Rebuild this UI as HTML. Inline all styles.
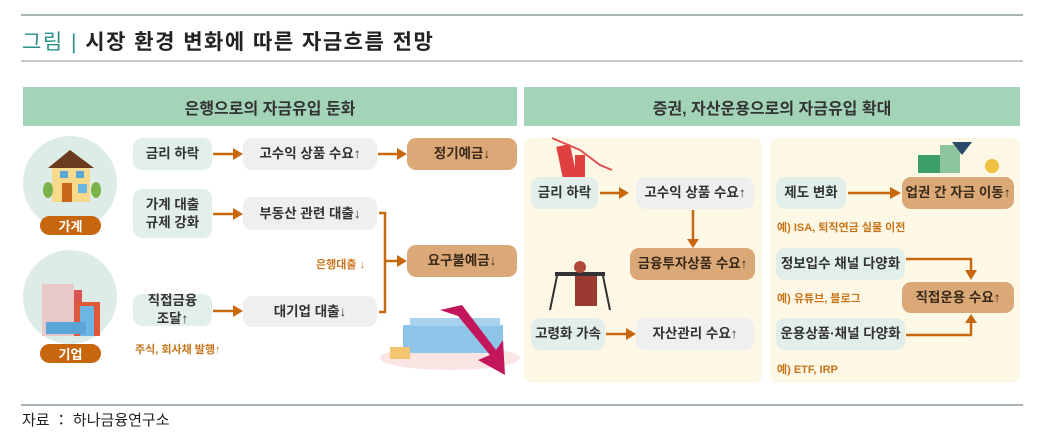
<!DOCTYPE html>
<html><head><meta charset="utf-8"><style>
body{margin:0;width:1043px;height:443px;background:#fff;position:relative;overflow:hidden;font-family:"Liberation Sans","Noto Sans CJK KR",sans-serif;}
.a{position:absolute;}
.b{position:absolute;display:flex;align-items:center;justify-content:center;text-align:center;border-radius:9px;font-size:13.5px;font-weight:bold;color:#333;line-height:18px;}
.t{background:#e1eeea;}
.g{background:#efefef;}
.o{background:#dba877;color:#3a2a1a;}
.h{position:absolute;background:#a3d4b9;display:flex;align-items:center;justify-content:center;font-size:16px;font-weight:bold;color:#333;}
.n{position:absolute;font-size:11px;font-weight:bold;color:#c8741a;}
.pill{position:absolute;background:#c8660e;color:#fff;border-radius:10px;font-size:13px;font-weight:bold;display:flex;align-items:center;justify-content:center;}
</style></head><body>
<div class="a" style="left:21px;top:14px;width:1002px;height:2px;background:#a9b3b8"></div>
<div class="a" style="left:22px;top:26px;font-size:21px;font-weight:bold;color:#222;white-space:nowrap;letter-spacing:1.5px"><span style="color:#2a8f8a;font-weight:normal">그림</span> <span style="color:#2a8f8a;font-weight:normal">|</span> 시장 환경 변화에 따른 자금흐름 전망</div>
<div class="a" style="left:21px;top:60px;width:1002px;height:2px;background:#c5c9cc"></div>

<div class="h" style="left:23px;top:87px;width:494px;height:39px">은행으로의 자금유입 둔화</div>
<div class="h" style="left:524px;top:87px;width:496px;height:39px">증권, 자산운용으로의 자금유입 확대</div>

<div class="a" style="left:524px;top:138px;width:238px;height:245px;background:#fdf8e6;border-radius:8px"></div>
<div class="a" style="left:770px;top:138px;width:250px;height:245px;background:#fdf8e6;border-radius:8px"></div>

<div class="a" style="left:23px;top:136px;width:94px;height:94px;border-radius:50%;background:#ddece6"></div>
<div class="a" style="left:23px;top:250px;width:94px;height:94px;border-radius:50%;background:#ddece6"></div>
<svg class="a" style="left:0;top:0" width="1043" height="443">
 <polygon points="48,168 70,150 94,168" fill="#6b3b1f"/>
 <rect x="52" y="168" width="38" height="34" fill="#f6d98a"/>
 <rect x="62" y="183" width="10" height="19" fill="#c8661c"/>
 <rect x="78" y="184" width="9" height="9" fill="#68b6e0"/>
 <rect x="60" y="171" width="8" height="7" fill="#5aa8d8"/><rect x="76" y="171" width="8" height="7" fill="#5aa8d8"/>
 <ellipse cx="48" cy="190" rx="5" ry="8" fill="#7bb34a"/><ellipse cx="96" cy="190" rx="5" ry="8" fill="#7bb34a"/>
 <rect x="42" y="284" width="32" height="52" fill="#e8c8c8"/>
 <rect x="74" y="290" width="8" height="46" fill="#d9534f"/>
 <rect x="76" y="302" width="24" height="34" fill="#e05a3a"/>
 <rect x="80" y="306" width="14" height="30" fill="#6cb6e6"/>
 <rect x="46" y="322" width="40" height="12" fill="#5aa4d6"/>
 <g stroke="#c8680e" stroke-width="2.5" fill="none">
  <line x1="213" y1="154" x2="233" y2="154"/><line x1="378" y1="154" x2="397" y2="154"/>
  <line x1="213" y1="214" x2="233" y2="214"/><line x1="213" y1="311" x2="233" y2="311"/>
  <polyline points="379,213 385,213 385,312 379,312"/><line x1="385" y1="261" x2="397" y2="261"/>
  <line x1="600" y1="193" x2="619" y2="193"/><line x1="693" y1="210" x2="693" y2="239"/>
  <line x1="606" y1="334" x2="626" y2="334"/>
  <line x1="848" y1="193" x2="890" y2="193"/>
  <polyline points="906,259 971,259 971,270"/><polyline points="906,335 971,335 971,323"/>
 </g>
 <g fill="#c8680e">
  <polygon points="233,148 243,154 233,160"/><polygon points="397,148 407,154 397,160"/>
  <polygon points="233,208 243,214 233,220"/><polygon points="233,305 243,311 233,317"/>
  <polygon points="397,255 407,261 397,267"/>
  <polygon points="619,187 629,193 619,199"/><polygon points="687,239 693,248 699,239"/>
  <polygon points="626,328 636,334 626,340"/><polygon points="890,187 901,193 890,199"/>
  <polygon points="965,270 971,280 977,270"/><polygon points="965,323 971,314 977,323"/>
 </g>
 <ellipse cx="450" cy="358" rx="70" ry="12" fill="#fbe4e4"/>
 <rect x="403" y="325" width="100" height="28" fill="#8ec4e8"/>
 <rect x="410" y="318" width="90" height="8" fill="#a8d2ee"/>
 <rect x="390" y="347" width="20" height="12" fill="#f2c56e"/>
 <polygon points="440,310 462,305 496,350 503,340 505,375 478,360 490,355 458,316" fill="#c2185b"/>
 <rect x="560" y="145" width="14" height="38" fill="#e04040" transform="rotate(-12 567 164)"/>
 <rect x="575" y="155" width="10" height="28" fill="#e04040"/>
 <polyline points="552,138 580,150 600,165 612,170" stroke="#e05050" stroke-width="2" fill="none"/>
 <rect x="555" y="272" width="50" height="4" fill="#333"/>
 <circle cx="580" cy="267" r="6" fill="#b04a3a"/><rect x="575" y="276" width="22" height="30" fill="#9a3a30"/>
 <line x1="557" y1="276" x2="550" y2="310" stroke="#333" stroke-width="2"/><line x1="603" y1="276" x2="610" y2="310" stroke="#333" stroke-width="2"/>
 <rect x="918" y="155" width="22" height="18" fill="#3aa068"/>
 <rect x="940" y="145" width="20" height="28" fill="#8cc4a0"/>
 <polygon points="952,142 972,142 962,155" fill="#2b4a6a"/>
 <circle cx="992" cy="166" r="7" fill="#f2c040"/>
</svg>
<div class="pill" style="left:40px;top:216px;width:61px;height:19px">가계</div>
<div class="pill" style="left:40px;top:344px;width:61px;height:19px">기업</div>

<div class="b t" style="left:133px;top:138px;width:79px;height:32px">금리 하락</div>
<div class="b g" style="left:243px;top:138px;width:134px;height:32px">고수익 상품 수요↑</div>
<div class="b o" style="left:407px;top:138px;width:110px;height:32px">정기예금↓</div>
<div class="b t" style="left:133px;top:189px;width:79px;height:49px">가계 대출<br>규제 강화</div>
<div class="b g" style="left:243px;top:197px;width:134px;height:33px">부동산 관련 대출↓</div>
<div class="n" style="left:316px;top:256px">은행대출 ↓</div>
<div class="b o" style="left:407px;top:245px;width:110px;height:32px">요구불예금↓</div>
<div class="b t" style="left:133px;top:294px;width:79px;height:32px">직접금융<br>조달↑</div>
<div class="b g" style="left:243px;top:296px;width:134px;height:31px">대기업 대출↓</div>
<div class="n" style="left:135px;top:341px">주식, 회사채 발행↑</div>

<div class="b t" style="left:531px;top:177px;width:67px;height:32px">금리 하락</div>
<div class="b g" style="left:636px;top:177px;width:118px;height:32px">고수익 상품 수요↑</div>
<div class="b o" style="left:630px;top:248px;width:125px;height:32px">금융투자상품 수요↑</div>
<div class="b t" style="left:531px;top:318px;width:74px;height:32px">고령화 가속</div>
<div class="b g" style="left:636px;top:318px;width:118px;height:32px">자산관리 수요↑</div>

<div class="b t" style="left:776px;top:177px;width:70px;height:32px">제도 변화</div>
<div class="b o" style="left:902px;top:177px;width:112px;height:32px">업권 간 자금 이동↑</div>
<div class="n" style="left:777px;top:219px">예) ISA, 퇴직연금 실물 이전</div>
<div class="b t" style="left:776px;top:248px;width:129px;height:32px">정보입수 채널 다양화</div>
<div class="n" style="left:777px;top:290px">예) 유튜브, 블로그</div>
<div class="b o" style="left:902px;top:282px;width:112px;height:31px">직접운용 수요↑</div>
<div class="b t" style="left:776px;top:318px;width:129px;height:32px">운용상품·채널 다양화</div>
<div class="n" style="left:777px;top:361px">예) ETF, IRP</div>

<div class="a" style="left:21px;top:404px;width:1002px;height:2px;background:#a9b3b8"></div>
<div class="a" style="left:22px;top:409px;font-size:15px;color:#222;white-space:nowrap">자료 ： 하나금융연구소</div>
</body></html>
